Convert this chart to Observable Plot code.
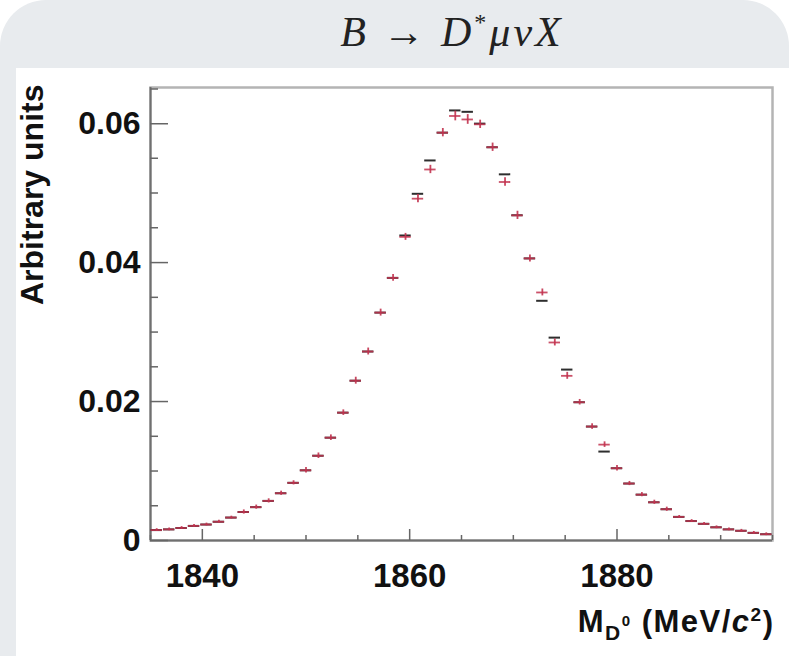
<!DOCTYPE html>
<html><head><meta charset="utf-8">
<script src="https://cdn.jsdelivr.net/npm/d3@7"></script>
<script src="https://cdn.jsdelivr.net/npm/@observablehq/plot@0.6"></script>
<style>
html,body{margin:0;padding:0;background:#fff;}
#page{position:relative;width:789px;height:656px;background:#e8ebee;border-radius:46px 46px 0 0;overflow:hidden;}
#title{position:absolute;left:0;top:8px;width:789px;text-align:center;padding-left:115px;box-sizing:border-box;font-family:"Liberation Serif","DejaVu Serif",serif;font-size:42px;color:#222;letter-spacing:3px;white-space:nowrap;}
#title i{font-style:italic;}
#title sup{font-size:24px;vertical-align:16px;line-height:0;}
#panel{position:absolute;left:16px;top:68px;width:773px;height:588px;background:#fff;}
</style></head><body>
<div id="page">
  <div id="title"><i>B</i> → <i>D</i><sup>*</sup><i>μνX</i></div>
  <div id="panel"></div>
</div>
<script>
// bin centres (MeV/c^2)
const binCenters = [1835.6,1836.8,1838.0,1839.2,1840.4,1841.6,1842.8,1844.0,1845.2,1846.4,
  1847.6,1848.8,1850.0,1851.2,1852.4,1853.6,1854.8,1856.0,1857.2,1858.4,
  1859.6,1860.8,1862.0,1863.2,1864.4,1865.6,1866.8,1868.0,1869.2,1870.4,
  1871.6,1872.8,1874.0,1875.2,1876.4,1877.6,1878.8,1880.0,1881.2,1882.4,
  1883.6,1884.8,1886.0,1887.2,1888.4,1889.6,1890.8,1892.0,1893.2,1894.4];
// red points (with error bars)
const redValues = [0.0015,0.0016,0.0018,0.0021,0.0023,0.0027,0.0033,0.0041,0.0048,0.0057,
  0.0068,0.0083,0.0101,0.0122,0.0148,0.0184,0.0230,0.0272,0.0328,0.0378,
  0.0437,0.0492,0.0534,0.0587,0.0611,0.0606,0.0599,0.0566,0.0516,0.0468,
  0.0406,0.0357,0.0285,0.0237,0.0199,0.0164,0.0138,0.0104,0.0082,0.0066,
  0.0055,0.0045,0.0034,0.0028,0.0024,0.0019,0.0016,0.0014,0.0011,0.0009];
const redErrors = [0.0002,0.0002,0.0002,0.0002,0.0002,0.0002,0.0002,0.0003,0.0003,0.0003,
  0.0003,0.0003,0.0004,0.0004,0.0004,0.0004,0.0005,0.0005,0.0005,0.0005,
  0.0005,0.0006,0.0006,0.0006,0.0007,0.0007,0.0006,0.0006,0.0006,0.0006,
  0.0005,0.0005,0.0005,0.0005,0.0004,0.0004,0.0004,0.0004,0.0003,0.0003,
  0.0003,0.0003,0.0002,0.0002,0.0002,0.0002,0.0002,0.0002,0.0002,0.0002];
// black histogram bars
const blackValues = [0.0015,0.0016,0.0018,0.0021,0.0023,0.0027,0.0033,0.0041,0.0048,0.0057,
  0.0068,0.0083,0.0101,0.0122,0.0148,0.0184,0.0230,0.0272,0.0328,0.0378,
  0.0439,0.0499,0.0547,0.0587,0.0619,0.0617,0.0600,0.0566,0.0527,0.0468,
  0.0406,0.0345,0.0292,0.0246,0.0199,0.0164,0.0128,0.0104,0.0082,0.0066,
  0.0055,0.0045,0.0034,0.0028,0.0024,0.0019,0.0016,0.0014,0.0011,0.0009];
const xMajorTicks = [1840,1860,1880];
const xTickLabels = ["1840","1860","1880"];
const xMinorTicks = [1835,1845,1850,1855,1865,1870,1875,1885,1890,1895];
const yMajorTicks = [0,0.02,0.04,0.06];
const yTickLabels = ["0","0.02","0.04","0.06"];
const yMinorTicks = [0.005,0.01,0.015,0.025,0.03,0.035,0.045,0.05,0.055,0.065];
const yTitle = "Arbitrary units";
const xTitleParts = {main:"M", sub:"D", subsup:"0", unitA:" (MeV/", unitC:"c", unitSup:"2", unitB:")"};

const red = binCenters.map((x,i)=>({x, y:redValues[i], e:redErrors[i]}));
const black = binCenters.map((x,i)=>({x, y:blackValues[i]}));
const halfBin = 0.55;
const redColor = "#c2334f";
const blackColor = "#2e2e2e";
const XLABEL = "M_D0 (MeV/c2)";

const chart = Plot.plot({
  width: 773, height: 588,
  marginLeft: 134, marginRight: 17, marginTop: 19, marginBottom: 116,
  style: {background:"transparent", fontFamily:"'Liberation Sans', Arial, sans-serif", color:"#111", overflow:"visible"},
  x: {domain:[1835,1895]},
  y: {domain:[0,0.0652]},
  marks: [
    Plot.frame({stroke:"#b4b4b4", strokeWidth:2.5}),
    Plot.ruleY([0], {stroke:"#707070", strokeWidth:2}),
    Plot.ruleX([1835], {stroke:"#707070", strokeWidth:2}),
    Plot.axisX({ticks:xMinorTicks, tickSize:-5, tickFormat:()=>"", label:null, stroke:"#666", strokeWidth:1.5}),
    Plot.axisX({ticks:xMajorTicks, tickSize:-11, tickFormat:()=>"", label:null, stroke:"#666", strokeWidth:1.5}),
    Plot.axisX({ticks:xMajorTicks, tickSize:0, tickPadding:23, tickFormat:d=>xTickLabels[xMajorTicks.indexOf(d)], label:null, fontSize:33, fontWeight:700}),
    Plot.axisY({ticks:yMinorTicks, tickSize:-8, tickFormat:()=>"", label:null, stroke:"#666", strokeWidth:1.5}),
    Plot.axisY({ticks:yMajorTicks, tickSize:-18, tickFormat:()=>"", label:null, stroke:"#666", strokeWidth:1.5}),
    Plot.axisY({ticks:yMajorTicks, tickSize:0, tickPadding:10, tickFormat:d=>yTickLabels[yMajorTicks.indexOf(d)], label:null, fontSize:32, fontWeight:700}),
    Plot.ruleY(black, {x1:d=>d.x-halfBin, x2:d=>d.x+halfBin, y:"y", stroke:blackColor, strokeWidth:2}),
    Plot.ruleX(red, {x:"x", y1:d=>d.y-d.e, y2:d=>d.y+d.e, stroke:redColor, strokeWidth:1.8, strokeOpacity:0.9}),
    Plot.ruleY(red, {x1:d=>d.x-halfBin, x2:d=>d.x+halfBin, y:"y", stroke:redColor, strokeWidth:1.8, strokeOpacity:0.85}),
    Plot.text([yTitle], {frameAnchor:"top-left", rotate:-90, textAnchor:"end", lineAnchor:"middle", dx:-118, dy:-3, fontSize:32, fontWeight:700, fill:"#111"}),
    Plot.text([XLABEL], {frameAnchor:"bottom-right", textAnchor:"end", lineAnchor:"middle", dx:2, dy:82, fontSize:31, fontWeight:700, fill:"#111"})
  ]
});
document.getElementById("panel").appendChild(chart);

// rich-text x-axis title
const svg = d3.select(chart);
svg.selectAll("text").filter(function(){return this.textContent===XLABEL;}).each(function(){
  const t = d3.select(this).attr("letter-spacing", 1.5);
  t.text(null);
  t.append("tspan").text(xTitleParts.main);
  t.append("tspan").attr("font-size",21).attr("dy","0.35em").text(xTitleParts.sub);
  t.append("tspan").attr("font-size",15).attr("dy","-0.9em").text(xTitleParts.subsup);
  t.append("tspan").attr("dy","0.2em").text(xTitleParts.unitA);
  t.append("tspan").attr("font-style","italic").text(xTitleParts.unitC);
  t.append("tspan").attr("font-size",19).attr("dy","-0.6em").text(xTitleParts.unitSup);
  t.append("tspan").attr("dy","0.37em").text(xTitleParts.unitB);
});
</script>
</body></html>
